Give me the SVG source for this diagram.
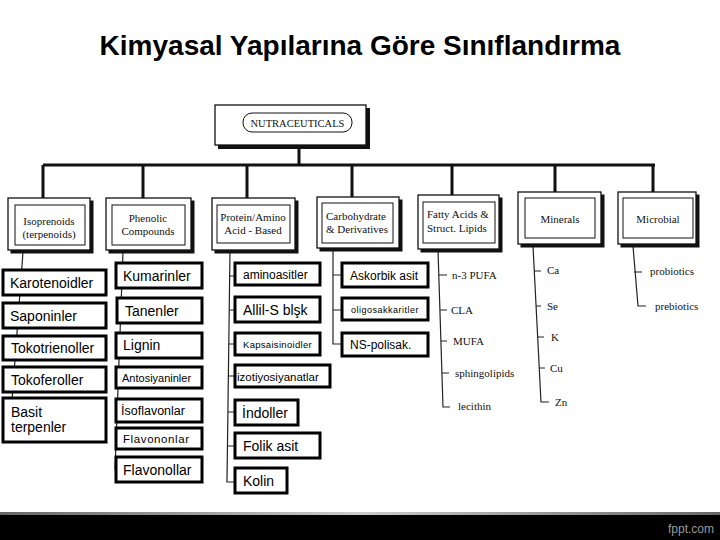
<svg xmlns="http://www.w3.org/2000/svg" width="720" height="540" viewBox="0 0 720 540">
<defs>
<style>
.title{font-family:"Liberation Sans",Arial,sans-serif;font-weight:bold;font-size:28px;fill:#000}
.serif{font-family:"Liberation Serif","Times New Roman",serif;font-size:11px;fill:#111}
.sans{font-family:"Liberation Sans",Arial,sans-serif;font-size:14px;fill:#000}
.shadow{fill:#111}
.outer{fill:#fff;stroke:#111;stroke-width:1.3}
.inner{fill:#fff;stroke:#111;stroke-width:1}
.leaf{fill:#fff;stroke:#000;stroke-width:3}
.bar{stroke:#111;stroke-width:3;fill:none}
.thin{stroke:#222;stroke-width:1.2;fill:none}
</style>
<linearGradient id="edge" x1="0" y1="0" x2="1" y2="0">
<stop offset="0" stop-color="#666"/><stop offset="0.5" stop-color="#ccc"/><stop offset="1" stop-color="#666"/>
</linearGradient>
</defs>
<rect width="720" height="540" fill="#fff"/>
<text class="title" x="360" y="55" text-anchor="middle">Kimyasal Yapılarına Göre Sınıflandırma</text>

<g id="connectors">
<path class="bar" d="M299 147V165M43 165H655M43 165V198M143 165V198M247 165V198M352 165V197M452 165V195M555 165V192M653 165V192"/>
<path class="thin" d="M23 252L12 400"/>
<path class="thin" d="M123 252L115 470"/>
<path class="thin" d="M230 250L227 482H235M229 276H235M229 310H235M228.5 344H235M228 376H235M228 412H235M227.5 446H235"/>
<path class="thin" d="M333 250V344H342M333 275H342M333 310H342"/>
<path class="thin" d="M438 250L443 407H450M439 275H447M440 310H447M441 341H447M442 373H449"/>
<path class="thin" d="M533 246L541 402H549M534 271H541M535.5 306H541M537 337H544M539 368H545"/>
<path class="thin" d="M633 246L638 306H646M634 272H642"/>
</g>

<g id="nutraceuticals">
<rect class="shadow" x="218" y="108" width="152" height="41"/>
<rect class="outer" x="215" y="105" width="151" height="40"/>
<rect class="inner" x="243" y="113" width="109" height="19" rx="9"/>
<text class="serif" x="297.5" y="127" text-anchor="middle" style="font-size:10.5px">NUTRACEUTICALS</text>
</g>

<g id="isoprenoids">
<rect class="shadow" x="10.5" y="200.5" width="83" height="53"/>
<rect class="outer" x="8" y="198" width="82" height="52"/>
<rect class="inner" x="15" y="205" width="70" height="40"/>
<text class="serif" x="49" y="225" text-anchor="middle">Isoprenoids</text>
<text class="serif" x="49" y="238" text-anchor="middle">(terpenoids)</text>
</g>
<g id="phenolic">
<rect class="shadow" x="108.5" y="200.5" width="86" height="53"/>
<rect class="outer" x="106" y="198" width="85" height="52"/>
<rect class="inner" x="112" y="205" width="73" height="40"/>
<text class="serif" x="148" y="222" text-anchor="middle">Phenolic</text>
<text class="serif" x="148" y="235" text-anchor="middle">Compounds</text>
</g>
<g id="protein">
<rect class="shadow" x="214.5" y="200.5" width="84" height="53"/>
<rect class="outer" x="212" y="198" width="83" height="52"/>
<rect class="inner" x="217" y="205" width="73" height="38"/>
<text class="serif" x="253" y="221" text-anchor="middle">Protein/Amino</text>
<text class="serif" x="253" y="234" text-anchor="middle">Acid - Based</text>
</g>
<g id="carbohydrate">
<rect class="shadow" x="319.5" y="199.5" width="83" height="52"/>
<rect class="outer" x="317" y="197" width="82" height="51"/>
<rect class="inner" x="322" y="203" width="71" height="40"/>
<text class="serif" x="326" y="220">Carbohydrate</text>
<text class="serif" x="326" y="233">&amp; Derivatives</text>
</g>
<g id="fatty">
<rect class="shadow" x="420.5" y="197.5" width="82" height="55"/>
<rect class="outer" x="418" y="195" width="81" height="54"/>
<rect class="inner" x="423" y="202" width="72" height="41"/>
<text class="serif" x="427" y="218">Fatty Acids &amp;</text>
<text class="serif" x="427" y="232">Struct. Lipids</text>
</g>
<g id="minerals">
<rect class="shadow" x="520.5" y="194.5" width="84" height="53"/>
<rect class="outer" x="518" y="192" width="83" height="52"/>
<rect class="inner" x="525" y="198" width="70" height="40"/>
<text class="serif" x="560" y="223" text-anchor="middle">Minerals</text>
</g>
<g id="microbial">
<rect class="shadow" x="620.5" y="194.5" width="79" height="53"/>
<rect class="outer" x="618" y="192" width="78" height="52"/>
<rect class="inner" x="623" y="198" width="70" height="40"/>
<text class="serif" x="658" y="223" text-anchor="middle">Microbial</text>
</g>

<g id="karotenoidler"><rect class="leaf" x="3" y="270" width="103" height="25"/><text class="sans" x="10" y="288">Karotenoidler</text></g>
<g id="saponinler"><rect class="leaf" x="3" y="303" width="103" height="25"/><text class="sans" x="10" y="321">Saponinler</text></g>
<g id="tokotrienoller"><rect class="leaf" x="3" y="336" width="103" height="24"/><text class="sans" x="11" y="353">Tokotrienoller</text></g>
<g id="tokoferoller"><rect class="leaf" x="3" y="367" width="103" height="25"/><text class="sans" x="11" y="385">Tokoferoller</text></g>
<g id="basit"><rect class="leaf" x="3" y="398" width="103" height="44"/><text class="sans" x="11" y="417">Basit</text><text class="sans" x="11" y="432">terpenler</text></g>

<g id="kumarinler"><rect class="leaf" x="116" y="263" width="86" height="25"/><text class="sans" x="123" y="281">Kumarinler</text></g>
<g id="tanenler"><rect class="leaf" x="117" y="298" width="85" height="25"/><text class="sans" x="125" y="316">Tanenler</text></g>
<g id="lignin"><rect class="leaf" x="116" y="333" width="86" height="25"/><text class="sans" x="123" y="350">Lignin</text></g>
<g id="antosiyaninler"><rect class="leaf" x="116" y="367" width="86" height="21"/><text class="sans" x="122" y="382" style="font-size:11px">Antosiyaninler</text></g>
<g id="isoflavonlar"><rect class="leaf" x="116" y="399" width="86" height="23"/><text class="sans" x="121" y="415" style="font-size:12.5px">İsoflavonlar</text></g>
<g id="flavononlar"><rect class="leaf" x="116" y="428" width="86" height="21"/><text class="sans" x="123" y="443" style="font-size:11.5px;letter-spacing:0.6px">Flavononlar</text></g>
<g id="flavonollar"><rect class="leaf" x="116" y="457" width="86" height="25"/><text class="sans" x="123" y="475">Flavonollar</text></g>

<g id="aminoasitler"><rect class="leaf" x="235" y="263" width="85" height="22"/><text class="sans" x="243" y="279" style="font-size:12px">aminoasitler</text></g>
<g id="allil"><rect class="leaf" x="235" y="297" width="85" height="25"/><text class="sans" x="243" y="315">Allil-S blşk</text></g>
<g id="kapsaisinoidler"><rect class="leaf" x="235" y="333" width="85" height="22"/><text class="sans" x="243" y="348" style="font-size:9.5px;letter-spacing:0.3px">Kapsaisinoidler</text></g>
<g id="izotiyosiyanatlar"><rect class="leaf" x="235" y="365" width="95" height="22"/><text class="sans" x="237" y="381" style="font-size:11.5px">izotiyosiyanatlar</text></g>
<g id="indoller"><rect class="leaf" x="235" y="400" width="63" height="25"/><text class="sans" x="242" y="418">İndoller</text></g>
<g id="folik"><rect class="leaf" x="235" y="433" width="85" height="25"/><text class="sans" x="243" y="451">Folik asit</text></g>
<g id="kolin"><rect class="leaf" x="235" y="468" width="52" height="25"/><text class="sans" x="243" y="486">Kolin</text></g>

<g id="askorbik"><rect class="leaf" x="342" y="263" width="86" height="24"/><text class="sans" x="350" y="280" style="font-size:12px">Askorbik asit</text></g>
<g id="oligosakkaritler"><rect class="leaf" x="342" y="298" width="86" height="22"/><text class="sans" x="351" y="313" style="font-size:9px;letter-spacing:0.5px">oligosakkaritler</text></g>
<g id="nspolisak"><rect class="leaf" x="342" y="333" width="86" height="23"/><text class="sans" x="350" y="349" style="font-size:12px">NS-polisak.</text></g>

<g id="fatty-items">
<text class="serif" x="452" y="279">n-3 PUFA</text>
<text class="serif" x="451" y="314">CLA</text>
<text class="serif" x="453" y="345">MUFA</text>
<text class="serif" x="455" y="377">sphingolipids</text>
<text class="serif" x="458" y="410">lecithin</text>
</g>
<g id="mineral-items">
<text class="serif" x="547" y="274">Ca</text>
<text class="serif" x="547" y="310">Se</text>
<text class="serif" x="551" y="341">K</text>
<text class="serif" x="550" y="372">Cu</text>
<text class="serif" x="555" y="406">Zn</text>
</g>
<g id="microbial-items">
<text class="serif" x="650" y="275">probiotics</text>
<text class="serif" x="655" y="310">prebiotics</text>
</g>

<g id="footer">
<rect x="0" y="512" width="720" height="3" fill="url(#edge)"/>
<rect x="0" y="515" width="720" height="25" fill="#000"/>
<text x="714" y="533" text-anchor="end" font-family="'Liberation Sans',Arial,sans-serif" font-size="12" fill="#9a9a9a">fppt.com</text>
</g>
</svg>
